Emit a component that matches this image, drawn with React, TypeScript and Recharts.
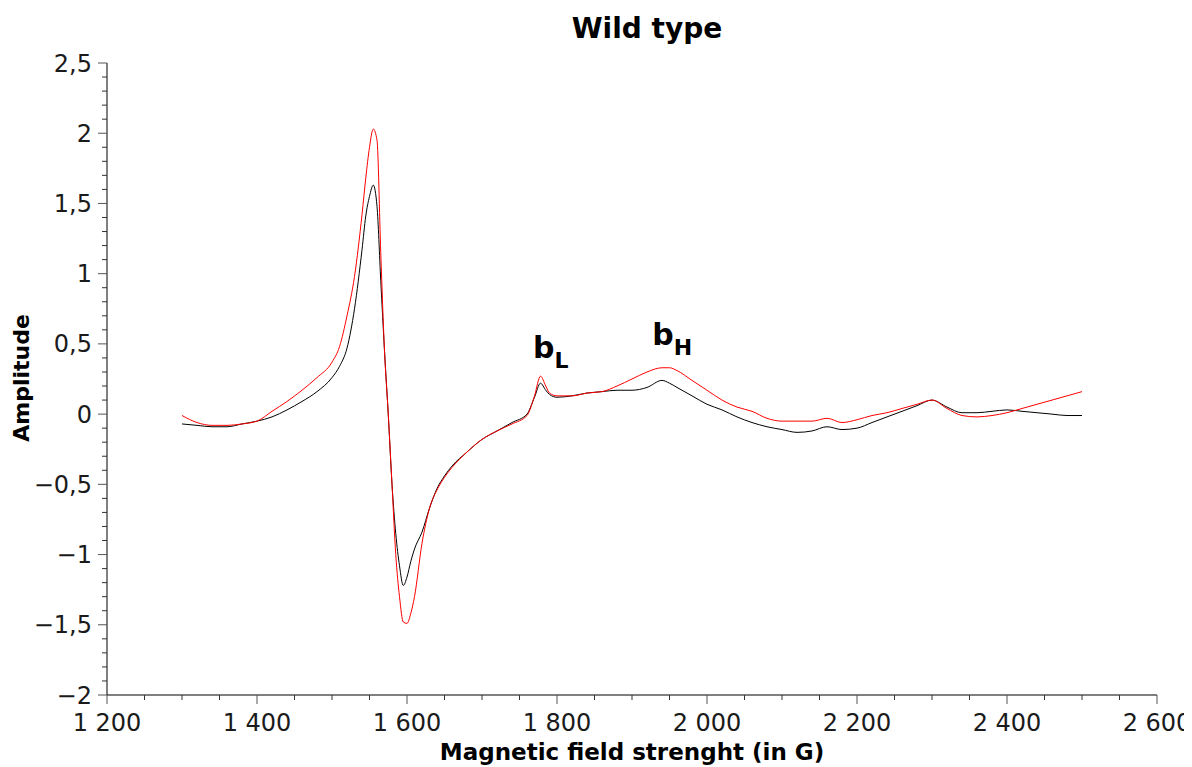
import { LineChart, Line, XAxis, YAxis, ReferenceDot } from 'recharts'

const field = [
  1300, 1320, 1340, 1360, 1380, 1400, 1420, 1440, 1460, 1480, 1500, 1510, 1520, 1530, 1540, 1545, 1550, 1555, 1560, 1565,
  1570, 1575, 1580, 1585, 1590, 1595, 1600, 1605, 1610, 1620, 1630, 1640, 1650, 1660, 1680, 1700, 1720, 1740, 1760, 1770,
  1778, 1785, 1790, 1800, 1820, 1840, 1860, 1880, 1900, 1920, 1940, 1950, 1960, 1980, 2000, 2020, 2040, 2060, 2080, 2100,
  2120, 2140, 2160, 2180, 2200, 2220, 2240, 2260, 2280, 2300, 2320, 2340, 2360, 2380, 2400, 2420, 2440, 2460, 2480, 2500,
]

// black trace
const blackTrace = [
  -0.07, -0.08, -0.09, -0.09, -0.07, -0.05, -0.02, 0.03, 0.09, 0.16, 0.26, 0.34, 0.47, 0.75, 1.17, 1.41, 1.55, 1.63, 1.48, 0.95,
  0.45, 0.0, -0.5, -0.85, -1.08, -1.22, -1.16, -1.05, -0.96, -0.84, -0.67, -0.53, -0.44, -0.37, -0.27, -0.18, -0.12, -0.06, 0.0, 0.12,
  0.22, 0.17, 0.14, 0.12, 0.13, 0.15, 0.16, 0.17, 0.17, 0.19, 0.24, 0.22, 0.19, 0.13, 0.07, 0.03, -0.02, -0.06, -0.09, -0.11,
  -0.13, -0.12, -0.09, -0.11, -0.1, -0.06, -0.02, 0.02, 0.06, 0.1, 0.05, 0.01, 0.01, 0.02, 0.03, 0.02, 0.01, 0.0, -0.01, -0.01,
]

// red trace
const redTrace = [
  -0.01, -0.06, -0.08, -0.08, -0.07, -0.05, 0.02, 0.09, 0.17, 0.26, 0.37, 0.48, 0.7, 0.98, 1.42, 1.68, 1.9, 2.03, 1.95, 1.15,
  0.45, 0.0, -0.5, -1.0, -1.3, -1.48, -1.49, -1.42, -1.3, -0.92, -0.67, -0.54, -0.45, -0.38, -0.27, -0.18, -0.12, -0.07, -0.01, 0.13,
  0.27, 0.2, 0.15, 0.13, 0.13, 0.15, 0.16, 0.2, 0.25, 0.3, 0.33, 0.33, 0.31, 0.24, 0.17, 0.1, 0.05, 0.02, -0.03, -0.05,
  -0.05, -0.05, -0.03, -0.06, -0.04, -0.01, 0.01, 0.04, 0.07, 0.1, 0.04, -0.01, -0.02, -0.01, 0.01, 0.04, 0.07, 0.1, 0.13, 0.16,
]

// every 50 G, labelled every 200 G
const xTicks = [
  1200, 1250, 1300, 1350, 1400, 1450, 1500, 1550, 1600, 1650, 1700, 1750, 1800, 1850, 1900, 1950, 2000, 2050, 2100, 2150,
  2200, 2250, 2300, 2350, 2400, 2450, 2500, 2550, 2600,
]
const yTicks = Array.from({ length: 46 }, (_, i) => Math.round((-2 + i * 0.1) * 10) / 10)

const data = field.map((f, i) => ({ field: f, black: blackTrace[i], red: redTrace[i] }))

const FONT = "'DejaVu Sans', sans-serif"
const TICK_FONT = 24

const fmtX = (v: number) => {
  const s = String(v)
  return s.length > 3 ? s.slice(0, s.length - 3) + ' ' + s.slice(-3) : s
}
const fmtY = (v: number) => {
  if (v === 0) return '0'
  return (v < 0 ? '\u2212' : '') + String(Math.abs(v)).replace('.', ',')
}

const XTick = ({ x, y, payload }: any) => {
  const v = payload.value
  const major = v % 200 === 0
  return (
    <g>
      <line x1={x} x2={x} y1={y} y2={y + (major ? 9 : 5)} stroke={major ? '#555' : '#333'} />
      {major && (
        <text x={x} y={y + 19} dy="0.71em" textAnchor="middle" fontFamily={FONT} fontSize={TICK_FONT} fill="#1a1a1a">
          {fmtX(v)}
        </text>
      )}
    </g>
  )
}

const YTick = ({ x, y, payload }: any) => {
  const v = payload.value
  const major = Math.abs(v * 2 - Math.round(v * 2)) < 1e-6
  return (
    <g>
      <line x1={x} x2={x - (major ? 9 : 5)} y1={y} y2={y} stroke={major ? '#555' : '#333'} />
      {major && (
        <text x={x - 15} y={y} dy="0.355em" textAnchor="end" fontFamily={FONT} fontSize={TICK_FONT} fill="#1a1a1a">
          {fmtY(v)}
        </text>
      )}
    </g>
  )
}

const Peak = ({ viewBox, main, sub }: any) => (
  <text x={viewBox.x} y={viewBox.y} fontFamily={FONT} fontWeight="bold" fontSize={30} fill="#000">
    {main}
    <tspan dy={10} fontSize={22}>{sub}</tspan>
  </text>
)

export default function App() {
  return (
    <div style={{ position: 'relative', width: 1184, height: 759, fontFamily: FONT }}>
      <LineChart width={1184} height={751} data={data} margin={{ top: 55, right: 35, left: 19, bottom: 4 }}>
        <XAxis
          dataKey="field"
          type="number"
          domain={[1200, 2600]}
          ticks={xTicks}
          interval={0}
          tick={<XTick />}
          tickSize={0}
          tickMargin={0}
          tickLine={false}
          axisLine={{ stroke: '#000' }}
          height={60}
        />
        <YAxis
          type="number"
          domain={[-2, 2.5]}
          ticks={yTicks}
          interval={0}
          tick={<YTick />}
          tickSize={0}
          tickMargin={0}
          tickLine={false}
          axisLine={{ stroke: '#000' }}
          width={80}
        />
        <Line type="monotone" dataKey="black" stroke="#000" strokeWidth={1} dot={false} isAnimationActive={false} />
        <Line type="monotone" dataKey="red" stroke="#ff0000" strokeWidth={1} dot={false} isAnimationActive={false} />
        <ReferenceDot x={1768} y={0.4} r={0} label={<Peak main="b" sub="L" />} />
        <ReferenceDot x={1927} y={0.49} r={0} label={<Peak main="b" sub="H" />} />
      </LineChart>
      <div style={{ position: 'absolute', left: 639, top: 7, transform: 'translateX(-50%)', fontSize: 28, lineHeight: '28px', fontWeight: 'bold', whiteSpace: 'nowrap' }}>
        Wild type
      </div>
      <div style={{ position: 'absolute', left: 624, top: 733, transform: 'translateX(-50%)', fontSize: 23, lineHeight: '23px', fontWeight: 'bold', whiteSpace: 'nowrap' }}>
        Magnetic field strenght (in G)
      </div>
      <div style={{ position: 'absolute', left: 14, top: 370, transform: 'translate(-50%, -50%) rotate(-90deg)', fontSize: 22, lineHeight: '22px', fontWeight: 'bold', whiteSpace: 'nowrap' }}>
        Amplitude
      </div>
    </div>
  )
}
